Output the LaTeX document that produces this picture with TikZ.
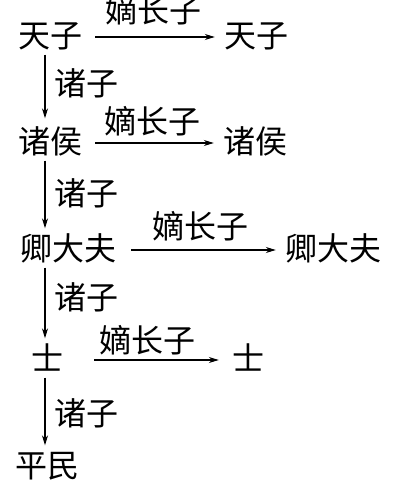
\documentclass[tikz,border=0pt]{standalone}
\usepackage{fontspec}
\newfontfamily\cjk{Noto Sans CJK SC}
\usetikzlibrary{arrows.meta}
\begin{document}
\begin{tikzpicture}[x=1pt,y=-1pt,
rank/.style={font=\cjk\fontsize{32}{32}\selectfont, inner xsep=9pt, inner ysep=2pt, text height=26pt, text depth=5pt},
lbl/.style={font=\cjk\fontsize{32}{32}\selectfont, inner sep=1pt},
arr/.style={-{Stealth[length=10pt,width=6pt]}, line width=1.1pt, shorten >=4pt}]
\useasboundingbox (0,0) rectangle (410,486);
\coordinate (spine) at (45,0);
\node[rank] (tz1) at (50,37){天子};
\node[rank] (tz2) at (256,37){天子};
\node[rank] (zh1) at (50,143){诸侯};
\node[rank] (zh2) at (255,143){诸侯};
\node[rank] (qd1) at (68,250){卿大夫};
\node[rank] (qd2) at (333,250){卿大夫};
\node[rank] (sh1) at (47,360){士};
\node[rank] (sh2) at (248,360){士};
\node[rank] (pm) at (47,467){平民};
\draw[arr, shorten >=0pt, shorten <=4pt] (tz1.east) -- (tz1.east -| tz2.west) node[midway, above=10pt, lbl]{嫡长子};
\draw[arr, shorten >=0pt, shorten <=4pt] (zh1.east) -- (zh1.east -| zh2.west) node[midway, above=5pt, lbl]{嫡长子};
\draw[arr, shorten >=0pt, shorten <=6pt] (qd1.east) -- (qd1.east -| qd2.west) node[midway, above=7pt, lbl]{嫡长子};
\draw[arr, shorten >=4pt, shorten <=22pt] (sh1.east) -- (sh1.east -| sh2.west) node[midway, above=3pt, lbl]{嫡长子};
\draw[arr, shorten >=7pt] (tz1.south -| spine) -- (zh1.north -| spine) node[pos=.4, right=8pt, lbl]{诸子};
\draw[arr] (zh1.south -| spine) -- (qd1.north -| spine) node[pos=.45, right=8pt, lbl]{诸子};
\draw[arr] (qd1.south -| spine) -- (sh1.north -| spine) node[pos=.4, right=8pt, lbl]{诸子};
\draw[arr] (sh1.south -| spine) -- (pm.north -| spine) node[pos=.5, right=8pt, lbl]{诸子};
\end{tikzpicture}
\end{document}
